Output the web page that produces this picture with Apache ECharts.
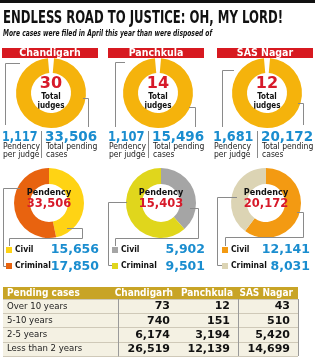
<!DOCTYPE html>
<html>
<head>
<meta charset="utf-8">
<script src="https://cdn.jsdelivr.net/npm/echarts@6/dist/echarts.min.js"></script>
<style>
html, body { margin: 0; padding: 0; background: #fff; }
#main { width: 315px; height: 362px; }
</style>
</head>
<body>
<div id="main"></div>
<script>
'use strict';
const cities = ['Chandigarh', 'Panchkula', 'SAS Nagar'];
const judges = [30, 14, 12];
const perJudge = [1117, 1107, 1681];
const totalPending = [33506, 15496, 20172];
const civil = [15656, 5902, 12141];
const criminal = [17850, 9501, 8031];
const ageGroups = ['Over 10 years', '5-10 years', '2-5 years', 'Less than 2 years'];
const pendingChandigarh = [73, 740, 6174, 26519];
const pendingPanchkula = [12, 151, 3194, 12139];
const pendingSAS = [43, 510, 5420, 14699];

const NARROW = '"Liberation Sans Narrow", "DejaVu Sans Condensed", sans-serif';
const WIDE = '"DejaVu Sans", sans-serif';
const RED = '#d71a2a';
const BLUE = '#1a8dcf';
const civilColors = ['#ffd314', '#a5a5a5', '#f39a12'];
const criminalColors = ['#e8630f', '#e0d61c', '#dcd4b4'];

let dom = document.getElementById('main');
let myChart = echarts.init(dom, null, {renderer: 'canvas'});

const fmt = n => n.toLocaleString('en-US');
const measure = document.createElement('canvas').getContext('2d');
function fit(text, font, width) {
    measure.font = font;
    return width / measure.measureText(text).width;
}
function txt(x, y, text, font, fill, align, extra) {
    align = align || 'left';
    return Object.assign({
        type: 'text', x: x, y: y, z: 10, silent: true,
        style: {text: text, font: font, fill: fill, align: align, textAlign: align,
            verticalAlign: 'middle', textVerticalAlign: 'middle'}
    }, extra || {});
}
function line(points, color) {
    return {type: 'polyline', z: 5, silent: true, shape: {points: points},
        style: {stroke: color || '#8a8a8a', lineWidth: 1, fill: null}};
}

const judgeCx = [51, 158, 267];
const donutCx = [49, 161, 266];
const barX = [2, 108, 217];
const numX = [2, 108, 213];
const totX = [45, 152, 261];
const sepX = [41.5, 148.5, 257.5];
const sqX = [6, 112, 222];
const valRight = [99, 205, 310];

// table layout
const tLeft = 118, tRight = 298, tTop = 299, tBottom = 356;
const colW = (tRight - tLeft) / cities.length;

let graphics = [];
graphics.push({type: 'rect', z: 1, shape: {x: 0, y: 0, width: 315, height: 3}, style: {fill: '#111'}});

let title = 'ENDLESS ROAD TO JUSTICE: OH, MY LORD!';
let titleFont = 'bold 17px ' + NARROW;
graphics.push(txt(3, 19, title, titleFont, '#111', 'left', {scaleX: fit(title, titleFont, 280)}));
let sub = 'More cases were filed in April this year than were disposed of';
let subFont = 'italic bold 9px ' + NARROW;
graphics.push(txt(3, 34, sub, subFont, '#111', 'left', {scaleX: fit(sub, subFont, 209)}));

const bigFont = 'bold 13.5px ' + WIDE;
const legFont = 'bold 12.5px ' + WIDE;
cities.forEach(function (c, i) {
    graphics.push({type: 'rect', z: 1, shape: {x: barX[i], y: 48, width: 96, height: 10}, style: {fill: '#d71920'}});
    graphics.push(txt(barX[i] + 48, 53.5, c, 'bold 10.5px ' + NARROW, '#fff', 'center'));

    let pj = fmt(perJudge[i]);
    graphics.push(txt(numX[i], 137, pj, bigFont, BLUE, 'left',
        {scaleX: Math.min(1, fit(pj, bigFont, sepX[i] - numX[i] - 4))}));
    graphics.push(txt(totX[i], 137, fmt(totalPending[i]), bigFont, BLUE));
    graphics.push(txt(numX[i] + 1, 147, 'Pendency', '8.5px ' + NARROW, '#222'));
    graphics.push(txt(numX[i] + 1, 155, 'per judge', '8.5px ' + NARROW, '#222'));
    graphics.push(txt(totX[i] + 1, 147, 'Total pending', '8.5px ' + NARROW, '#222'));
    graphics.push(txt(totX[i] + 1, 155, 'cases', '8.5px ' + NARROW, '#222'));
    graphics.push(line([[sepX[i], 131], [sepX[i], 158]]));

    graphics.push(txt(donutCx[i], 193, 'Pendency', 'bold 9px ' + NARROW, '#111', 'center'));
    graphics.push(txt(donutCx[i], 204, fmt(civil[i] + criminal[i]), 'bold 11.5px ' + WIDE, RED, 'center'));

    graphics.push({type: 'rect', z: 5, shape: {x: sqX[i], y: 247, width: 6, height: 6}, style: {fill: civilColors[i]}});
    graphics.push({type: 'rect', z: 5, shape: {x: sqX[i], y: 263, width: 6, height: 6}, style: {fill: criminalColors[i]}});
    graphics.push(txt(sqX[i] + 9, 250, 'Civil', 'bold 8.5px ' + NARROW, '#111'));
    graphics.push(txt(sqX[i] + 9, 266, 'Criminal', 'bold 8.5px ' + NARROW, '#111'));
    graphics.push(txt(valRight[i], 250, fmt(civil[i]), legFont, BLUE, 'right'));
    graphics.push(txt(valRight[i], 267, fmt(criminal[i]), legFont, BLUE, 'right'));
});

// leader lines
graphics.push(line([[20, 63.5], [5.5, 63.5], [5.5, 125]]));
graphics.push(line([[83, 98.5], [88.5, 98.5], [88.5, 127]]));
graphics.push(line([[125, 62.5], [115.5, 62.5], [115.5, 127]]));
graphics.push(line([[189, 107.5], [195.5, 107.5], [195.5, 127]]));
graphics.push(line([[234, 70.5], [222.5, 70.5], [222.5, 127]]));
graphics.push(line([[298, 103.5], [303.5, 103.5], [303.5, 125]]));

graphics.push(line([[20, 188.5], [3.5, 188.5], [3.5, 266.5], [6, 266.5]]));
graphics.push(line([[67, 228.5], [82.5, 228.5], [82.5, 238.5], [9.5, 238.5], [9.5, 246]]));
graphics.push(line([[127, 202.5], [108.5, 202.5], [108.5, 265.5], [112, 265.5]]));
graphics.push(line([[190, 208.5], [198.5, 208.5], [198.5, 238.5], [115.5, 238.5], [115.5, 246]]));
graphics.push(line([[237, 197.5], [217.5, 197.5], [217.5, 265.5], [222, 265.5]]));
graphics.push(line([[297, 212.5], [303.5, 212.5], [303.5, 237.5], [225.5, 237.5], [225.5, 246]]));

// table frame
graphics.push({type: 'rect', z: -1, shape: {x: 3, y: 287, width: tRight - 3, height: tBottom - 287}, style: {fill: '#f4f1e3'}});
graphics.push({type: 'rect', z: -1, shape: {x: 3, y: 287, width: tRight - 3, height: tTop - 287}, style: {fill: '#c8a426'}});
graphics.push(txt(7, 293, 'Pending cases', 'bold 10px ' + NARROW, '#fff'));
cities.forEach(function (c, i) {
    graphics.push(txt(tLeft + (i + 1) * colW - 5, 293, c, 'bold 10px ' + NARROW, '#fff', 'right'));
});

let tableData = [];
[pendingChandigarh, pendingPanchkula, pendingSAS].forEach(function (col, ci) {
    col.forEach(function (v, ri) {
        tableData.push([ci, ri, v]);
    });
});

let series = [];
cities.forEach(function (c, i) {
    series.push({
        type: 'gauge',
        center: [judgeCx[i], 93],
        radius: 35,
        startAngle: 85,
        endAngle: -265,
        min: 0,
        max: judges[i],
        silent: true,
        progress: {show: true, width: 15, itemStyle: {color: '#f5b30c'}},
        axisLine: {lineStyle: {width: 15, color: [[1, 'rgba(0,0,0,0)']]}},
        pointer: {show: false},
        anchor: {show: false},
        axisTick: {show: false},
        splitLine: {show: false},
        axisLabel: {show: false},
        title: {show: false},
        detail: {
            offsetCenter: [0, 0],
            formatter: '{n|{value}}\n{t|Total}\n{t|judges}',
            rich: {
                n: {fontSize: 16, fontWeight: 'bold', fontFamily: WIDE, color: RED, lineHeight: 17},
                t: {fontSize: 8, fontWeight: 'bold', fontFamily: NARROW, color: '#111', lineHeight: 9}
            }
        },
        data: [{value: judges[i]}]
    });
    series.push({
        type: 'pie',
        center: [donutCx[i], 203],
        radius: [19, 35],
        startAngle: 90,
        silent: true,
        label: {show: false},
        labelLine: {show: false},
        data: [
            {name: 'Civil', value: civil[i], itemStyle: {color: civilColors[i]}},
            {name: 'Criminal', value: criminal[i], itemStyle: {color: criminalColors[i]}}
        ]
    });
});
series.push({
    type: 'custom',
    coordinateSystem: 'cartesian2d',
    silent: true,
    data: tableData,
    renderItem: function (params, api) {
        let p = api.coord([api.value(0), api.value(1)]);
        let w = api.size([1, 1])[0];
        return {
            type: 'text',
            x: p[0] + w / 2 - 8,
            y: p[1] + 0.5,
            style: {text: fmt(api.value(2)), font: 'bold 11px ' + WIDE, fill: '#111',
                align: 'right', textAlign: 'right', verticalAlign: 'middle', textVerticalAlign: 'middle'}
        };
    }
});

let option = {
    backgroundColor: '#fff',
    animation: false,
    grid: {left: tLeft, right: 315 - tRight, top: tTop, height: tBottom - tTop},
    xAxis: {
        type: 'category',
        data: cities,
        position: 'top',
        axisLine: {show: false},
        axisTick: {show: false},
        axisLabel: {show: false},
        splitLine: {show: true, lineStyle: {color: '#9a9a9a'}}
    },
    yAxis: {
        type: 'category',
        data: ageGroups,
        inverse: true,
        axisLine: {show: true, lineStyle: {color: '#9a9a9a'}},
        axisTick: {show: true, length: tLeft - 3, lineStyle: {color: '#cfc9b8'}},
        axisLabel: {align: 'left', margin: tLeft - 7, fontFamily: NARROW, fontSize: 9.5, color: '#222'},
        splitLine: {show: true, lineStyle: {color: '#cfc9b8'}}
    },
    graphic: {elements: graphics},
    series: series
};
if (option && typeof option === 'object') {
    myChart.setOption(option, true);
}
</script>
</body>
</html>
